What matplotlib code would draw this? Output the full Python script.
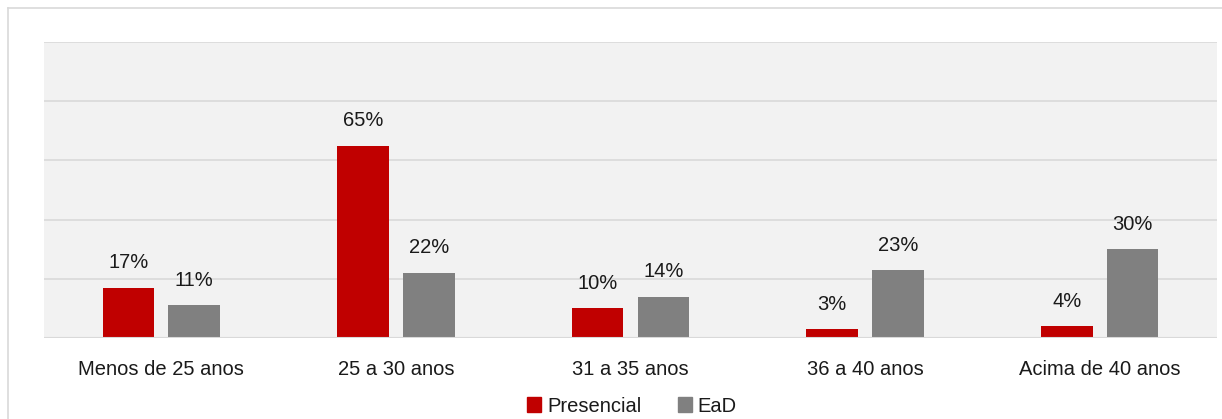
import numpy as np
import matplotlib
matplotlib.use("Agg")
import matplotlib.pyplot as plt
from matplotlib.lines import Line2D
from matplotlib.patches import Patch

categorias = ["Menos de 25 anos", "25 a 30 anos", "31 a 35 anos", "36 a 40 anos", "Acima de 40 anos"]
presencial = [17, 65, 10, 3, 4]
ead = [11, 22, 14, 23, 30]
series = ["Presencial", "EaD"]
cores = ["#c00000", "#808080"]

plt.rcParams["font.family"] = ["Liberation Sans", "DejaVu Sans"]

W, H = 1222, 419
fig = plt.figure(figsize=(W / 100, H / 100), dpi=100)
ax = fig.add_axes([44 / W, 1 - 338 / H, (1217 - 44) / W, (338 - 42) / H])

# moldura do gráfico
fig.add_artist(Line2D([8 / W, 8 / W], [0, 1 - 8 / H], color="#d9d9d9", lw=1.2))
fig.add_artist(Line2D([8 / W, 1], [1 - 8 / H, 1 - 8 / H], color="#d9d9d9", lw=1.2))

x = np.arange(len(categorias))
largura = 0.22
desloc = 0.14

ax.set_facecolor("#f2f2f2")
for valores, cor, d in zip([presencial, ead], cores, [-desloc, desloc]):
    barras = ax.bar(x + d, valores, largura, color=cor, zorder=3)
    for b, v in zip(barras, valores):
        ax.text(b.get_x() + b.get_width() / 2, v + 5.2, f"{v}%", ha="center", va="bottom",
                fontsize=14.5, color="#1a1a1a")

ax.set_xlim(-0.5, len(categorias) - 0.5)
ax.set_ylim(0, 100)
ax.set_yticks(np.arange(0, 101, 20))
ax.yaxis.grid(True, color="#d9d9d9", lw=1.2, zorder=0)
ax.tick_params(axis="y", left=False, labelleft=False)
ax.tick_params(axis="x", bottom=False, pad=12, labelsize=14.5, labelcolor="#1a1a1a")
ax.set_xticks(x)
ax.set_xticklabels(categorias)
for s in ax.spines.values():
    s.set_visible(False)
ax.axhline(0, color="#d9d9d9", lw=1.5, zorder=4)

handles = [Patch(color=c, label=s) for c, s in zip(cores, series)]
fig.legend(handles=handles, loc="center", bbox_to_anchor=(632 / W, 1 - 406 / H), ncol=2,
           frameon=False, fontsize=14.5, handlelength=0.7, handleheight=0.7,
           handletextpad=0.3, columnspacing=1.8, labelcolor="#1a1a1a")

fig.savefig("out.png", dpi=100)
